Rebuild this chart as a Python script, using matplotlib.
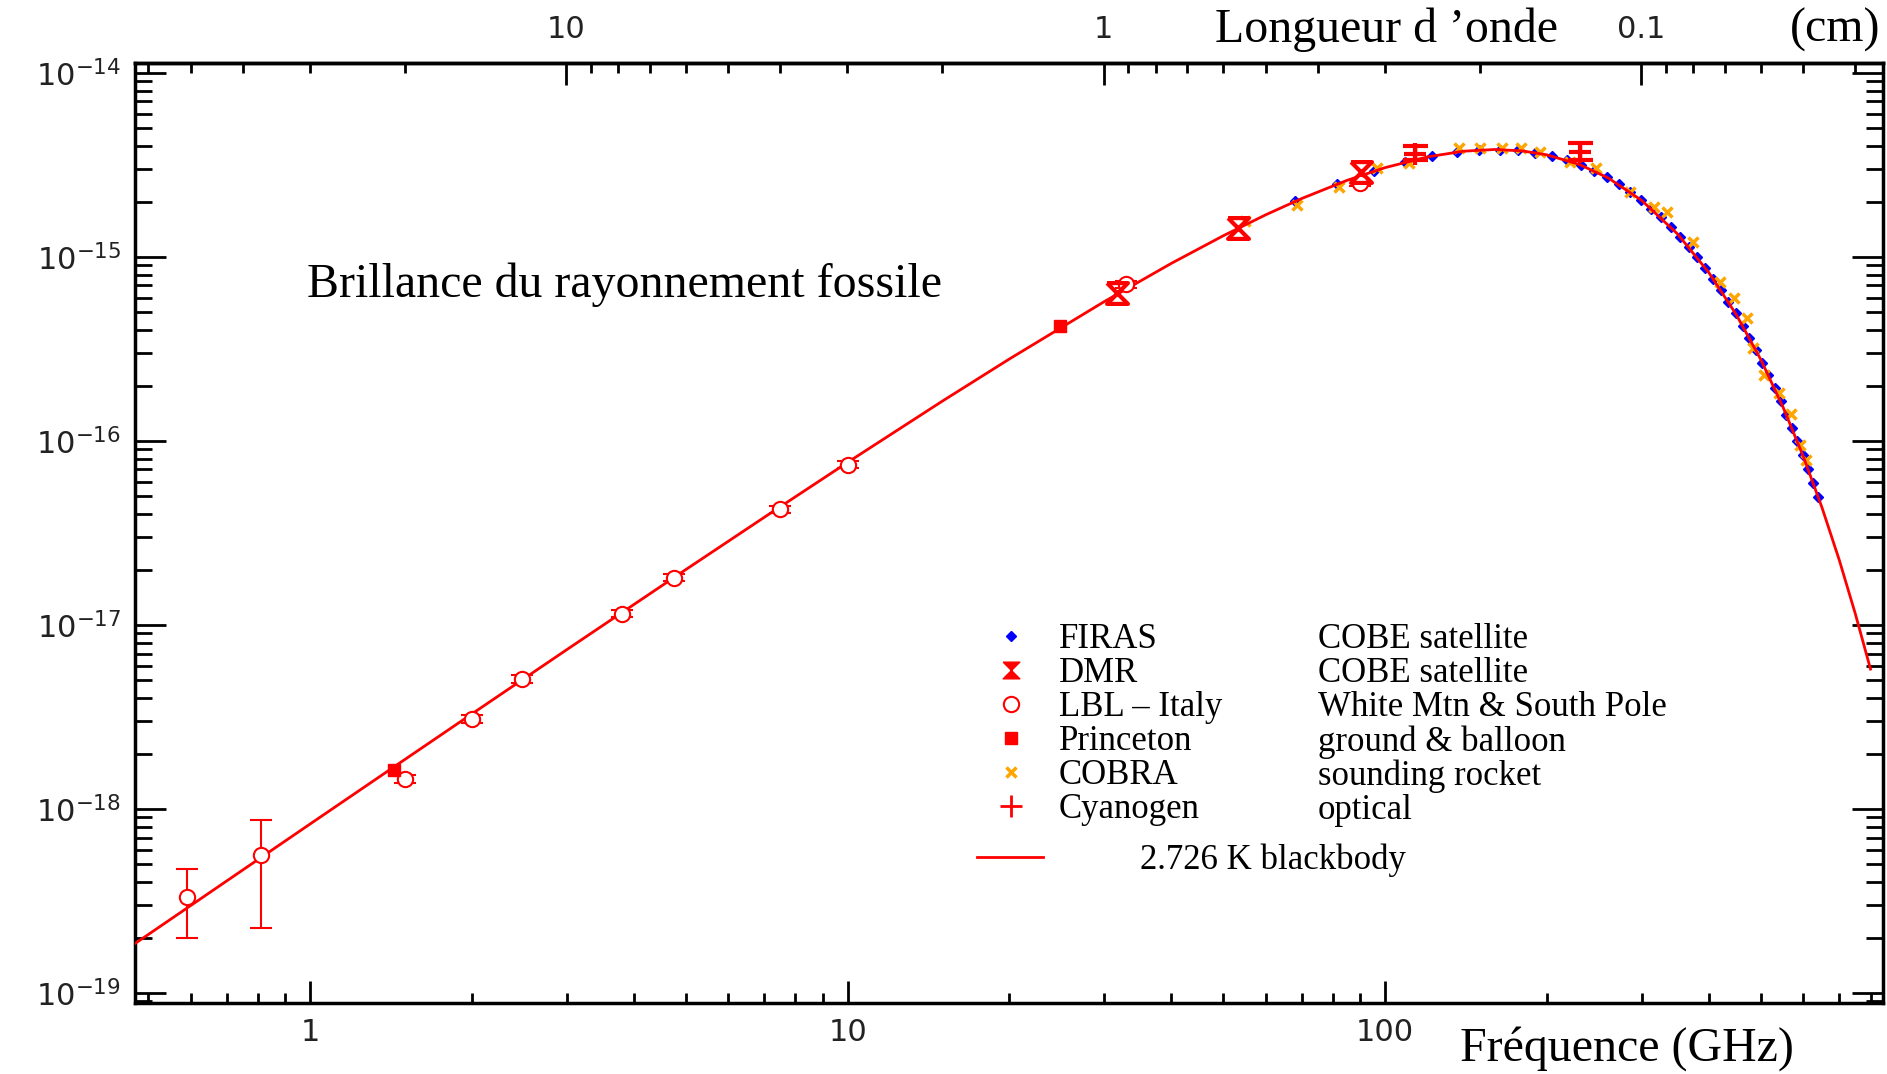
import matplotlib.pyplot as plt
import numpy as np
from matplotlib import ticker
from matplotlib.lines import Line2D

# 2.726 K blackbody curve (GHz, erg s-1 cm-2 sr-1 Hz-1)
curve_ghz = [0.47, 0.5, 0.7, 1, 1.5, 2, 3, 5, 7, 10, 15, 20, 30, 40, 50, 60, 70, 85,
             100, 120, 140, 160, 180, 200, 230, 260, 300, 350, 400, 450, 500, 550,
             600, 650, 700, 750, 800]
curve_val = [1.84e-19, 2.08e-19, 4.07e-19, 8.29e-19, 1.857e-18, 3.287e-18, 7.33e-18,
             2.0e-17, 3.85e-17, 7.65e-17, 1.645e-16, 2.79e-16, 5.71e-16, 9.22e-16,
             1.304e-15, 1.696e-15, 2.079e-15, 2.609e-15, 3.058e-15, 3.50e-15, 3.756e-15,
             3.837e-15, 3.77e-15, 3.589e-15, 3.179e-15, 2.689e-15, 2.032e-15, 1.334e-15,
             8.245e-16, 4.87e-16, 2.77e-16, 1.528e-16, 8.23e-17, 4.34e-17, 2.25e-17,
             1.145e-17, 5.76e-18]

firas_ghz = [68.0, 81.5, 95.3, 108.8, 122.3, 136.1, 149.6, 163.4, 176.9, 190.4, 204.2,
             217.6, 231.1, 244.9, 258.4, 272.2, 285.7, 299.2, 313.0, 326.5, 340.0, 353.8,
             367.2, 381.0, 394.5, 408.0, 421.8, 435.3, 448.8, 462.6, 476.1, 489.9, 503.3,
             516.8, 530.6, 544.1, 557.9, 571.4, 584.9, 598.7, 612.2, 625.7, 639.4]
firas_val = [2.007e-15, 2.495e-15, 2.930e-15, 3.278e-15, 3.541e-15, 3.721e-15, 3.815e-15,
             3.835e-15, 3.789e-15, 3.688e-15, 3.541e-15, 3.363e-15, 3.161e-15, 2.939e-15,
             2.714e-15, 2.482e-15, 2.259e-15, 2.043e-15, 1.833e-15, 1.640e-15, 1.459e-15,
             1.289e-15, 1.137e-15, 9.96e-16, 8.72e-16, 7.60e-16, 6.59e-16, 5.71e-16,
             4.93e-16, 4.24e-16, 3.64e-16, 3.11e-16, 2.66e-16, 2.27e-16, 1.93e-16,
             1.64e-16, 1.39e-16, 1.18e-16, 9.94e-17, 8.36e-17, 7.05e-17, 5.93e-17, 4.97e-17]

dmr_ghz = [31.7, 53.3, 90.3]
dmr_val = [6.35e-16, 1.43e-15, 2.91e-15]

lbl_ghz = [0.59, 0.81, 1.5, 2.0, 2.48, 3.8, 4.75, 7.5, 10.0, 33.0, 90.0]
lbl_val = [3.34e-19, 5.66e-19, 1.46e-18, 3.1e-18, 5.1e-18, 1.15e-17, 1.81e-17, 4.26e-17,
           7.45e-17, 7.1e-16, 2.52e-15]
lbl_err_lo = [1.34e-19, 3.40e-19, 0.08e-18, 0.15e-18, 0.25e-18, 0.05e-17, 0.08e-17,
              0.2e-17, 0.3e-17, 0.3e-16, 0.1e-15]
lbl_err_hi = [1.38e-19, 3.09e-19, 0.08e-18, 0.15e-18, 0.25e-18, 0.05e-17, 0.08e-17,
              0.2e-17, 0.3e-17, 0.3e-16, 0.1e-15]

princeton_ghz = [1.43, 24.8]
princeton_val = [1.63e-18, 4.22e-16]

cobra_ghz = [54.9, 68.5, 82.1, 96.5, 110.7, 137.3, 150.2, 165.0, 179.0, 194.0, 220.5,
             246.7, 285.0, 316.0, 334.6, 374.0, 419.0, 446.7, 472.0, 483.7, 507.6, 541.0,
             568.0, 591.5, 605.7]
cobra_val = [1.56e-15, 1.92e-15, 2.40e-15, 3.03e-15, 3.24e-15, 3.90e-15, 3.93e-15,
             3.93e-15, 3.90e-15, 3.73e-15, 3.30e-15, 3.03e-15, 2.26e-15, 1.88e-15,
             1.76e-15, 1.21e-15, 7.35e-16, 5.97e-16, 4.65e-16, 3.19e-16, 2.29e-16,
             1.82e-16, 1.41e-16, 9.5e-17, 7.9e-17]

cyan_ghz = [113.9, 230.6]
cyan_val = [3.63e-15, 3.73e-15]
cyan_err_lo = [0.26e-15, 0.36e-15]
cyan_err_hi = [0.38e-15, 0.45e-15]

names = ['FIRAS', 'DMR', 'LBL \u2013 Italy', 'Princeton', 'COBRA', 'Cyanogen']
descriptions = ['COBE satellite', 'COBE satellite', 'White Mtn & South Pole',
                'ground & balloon', 'sounding rocket', 'optical']

# tick positions kept inside the visible range
x_major = [1, 10, 100]
y_exponents = [-19, -18, -17, -16, -15, -14]
wl_major = [10, 1, 0.1]

W, H = 1887, 1074
serif = ['Liberation Serif', 'DejaVu Serif']
hourglass = [(-1, 1), (1, 1), (-1, -1), (1, -1), (-1, 1)]

fig = plt.figure(figsize=(W / 100, H / 100), dpi=100)
ax = fig.add_axes([135 / W, 1 - 1003 / H, 1748 / W, 940 / H])
ax.set_xscale('log')
ax.set_yscale('log')
xmin, xmax = 0.4724, 844
ymin, ymax = 10 ** -19.054, 10 ** -13.946
ax.set_xlim(xmin, xmax)
ax.set_ylim(ymin, ymax)

ax.plot(firas_ghz, firas_val, ls='none', marker='D', ms=5, color='blue', zorder=2)
ax.plot(cobra_ghz, cobra_val, ls='none', marker='x', ms=7, mew=2.5, color='#FFA500', zorder=2)
ax.plot(curve_ghz, curve_val, color='red', lw=2, zorder=3)
ax.errorbar(lbl_ghz, lbl_val, yerr=[lbl_err_lo, lbl_err_hi], fmt='o', ms=11, mfc='white',
            mec='red', mew=1.5, ecolor='red', elinewidth=1.5, capsize=8, capthick=1.5, zorder=4)
ax.plot(princeton_ghz, princeton_val, ls='none', marker='s', ms=9, color='red', zorder=5)
ax.plot(dmr_ghz, dmr_val, ls='none', marker=hourglass, ms=15, mfc='none', mec='red',
        mew=3, zorder=5)
ax.errorbar(cyan_ghz, cyan_val, yerr=[cyan_err_lo, cyan_err_hi], fmt='+', ms=16, mew=3,
            color='red', elinewidth=2.5, capsize=9, capthick=3, zorder=5)


def minors(lo, hi):
    out = []
    for e in range(-21, 4):
        for m in range(2, 10):
            v = m * 10.0 ** e
            if lo < v < hi:
                out.append(v)
    return out


# axes styling
for s in ax.spines.values():
    s.set_linewidth(2.5)
ax.tick_params(which='both', direction='in', top=False, right=True, width=2,
               labelsize=22, labelcolor='#222222')
ax.tick_params(axis='x', which='major', length=16, pad=11)
ax.tick_params(axis='x', which='minor', length=7)
ax.tick_params(axis='y', which='major', length=22, pad=10)
ax.tick_params(axis='y', which='minor', length=12)
ax.xaxis.set_major_locator(ticker.FixedLocator(x_major))
ax.xaxis.set_minor_locator(ticker.FixedLocator(minors(xmin, xmax)))
ax.xaxis.set_major_formatter(ticker.FuncFormatter(lambda v, p: f'{v:g}'))
ax.xaxis.set_minor_formatter(ticker.NullFormatter())
ax.yaxis.set_major_locator(ticker.FixedLocator([10.0 ** e for e in y_exponents]))
ax.yaxis.set_minor_locator(ticker.FixedLocator(minors(ymin, ymax)))
ax.yaxis.set_major_formatter(ticker.LogFormatterMathtext())
ax.yaxis.set_minor_formatter(ticker.NullFormatter())

# wavelength axis on top (cm)
secax = ax.secondary_xaxis('top', functions=(lambda f: 29.98 / f, lambda l: 29.98 / l))
secax.xaxis.set_major_locator(ticker.FixedLocator(wl_major))
secax.xaxis.set_minor_locator(ticker.FixedLocator(minors(29.98 / xmax, 29.98 / xmin)))
secax.xaxis.set_major_formatter(ticker.FuncFormatter(lambda v, p: f'{v:g}'))
secax.xaxis.set_minor_formatter(ticker.NullFormatter())
secax.tick_params(which='both', direction='in', width=2, labelsize=22, labelcolor='#222222')
secax.tick_params(which='major', length=16, pad=14)
secax.tick_params(which='minor', length=7)
secax.spines['top'].set_linewidth(2.5)

fig.text(1215 / W, 1 - 30 / H, "Longueur d \u2019onde", family=serif, fontsize=34.5,
         ha='left', va='center')
fig.text(1790 / W, 1 - 30 / H, "(cm)", family=serif, fontsize=34.5, ha='left', va='center')
fig.text(1460 / W, 1 - 1049 / H, "Fr\u00e9quence (GHz)", family=serif, fontsize=34.5,
         ha='left', va='center')
fig.text(307 / W, 1 - 285 / H, "Brillance du rayonnement fossile", family=serif,
         fontsize=34.5, ha='left', va='center')

# legend: markers + names, then descriptions, then blackbody line
handles = [
    Line2D([], [], ls='none', marker='D', ms=5, color='blue'),
    Line2D([], [], ls='none', marker=hourglass, ms=12, color='red'),
    Line2D([], [], ls='none', marker='o', ms=11, mfc='white', mec='red', mew=1.5),
    Line2D([], [], ls='none', marker='s', ms=9, color='red'),
    Line2D([], [], ls='none', marker='x', ms=7, mew=2.5, color='#FFA500'),
    Line2D([], [], ls='none', marker='+', ms=16, mew=2, color='red'),
]
leg_kw = dict(frameon=False, prop={'family': serif, 'size': 25}, labelspacing=0.03,
              borderpad=0, borderaxespad=0, loc='upper left')
leg1 = ax.legend(handles, names, bbox_to_anchor=(0.4908, 0.404), handlelength=1.04,
                 handletextpad=0.85, **leg_kw)
ax.add_artist(leg1)
blank = [Line2D([], [], ls='none') for _ in descriptions]
leg2 = ax.legend(blank, descriptions, bbox_to_anchor=(0.6768, 0.404), handlelength=0,
                 handletextpad=0, **leg_kw)
ax.add_artist(leg2)
bb = Line2D([], [], color='red', lw=2)
ax.legend([bb], ['2.726 K blackbody'], bbox_to_anchor=(0.4817, 0.1693), handlelength=1.9,
          handletextpad=2.8, **leg_kw)

fig.savefig('out.png', dpi=100)
